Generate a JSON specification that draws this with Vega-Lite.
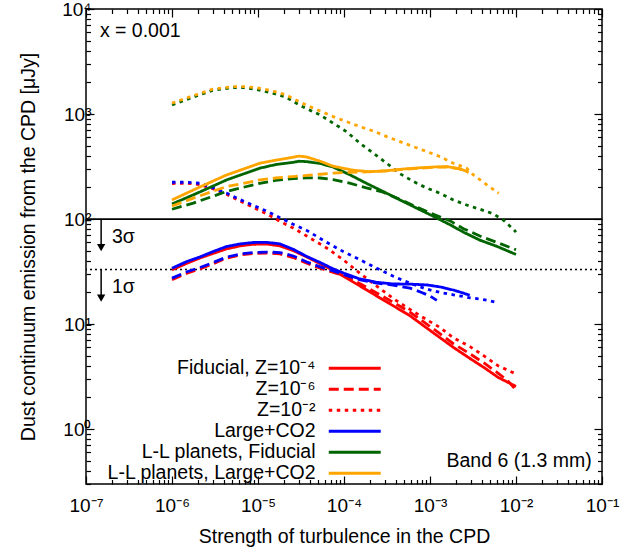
{
  "$schema": "https://vega.github.io/schema/vega-lite/v6.json",
  "width": 516,
  "height": 475,
  "autosize": {"type": "none"},
  "padding": {"left": 86, "top": 9, "right": 37, "bottom": 68},
  "background": "white",
  "config": {
    "view": {"stroke": "black", "strokeWidth": 1.5},
    "font": "Liberation Sans",
    "axis": {
      "domain": false, "grid": false,
      "labelFont": "Liberation Sans", "labelFontSize": 19, "labelColor": "black",
      "titleFont": "Liberation Sans", "titleFontSize": 19.5, "titleFontWeight": "normal", "titleColor": "black",
      "tickColor": "black", "tickWidth": 1.2, "labelOverlap": false, "labelFlush": false, "labelBound": false
    },
    "text": {"font": "Liberation Sans", "fontSize": 19.5, "color": "black"}
  },
  "datasets": {
    "curves": [
      {"s":"R2","a":1e-6,"f":218},{"s":"R2","a":1.5e-6,"f":219},{"s":"R2","a":2.1e-6,"f":213},{"s":"R2","a":3e-6,"f":194},{"s":"R2","a":4.3e-6,"f":172},{"s":"R2","a":6.2e-6,"f":148},{"s":"R2","a":8.8e-6,"f":129},{"s":"R2","a":1.26e-5,"f":112},{"s":"R2","a":1.8e-5,"f":95},{"s":"R2","a":2.57e-5,"f":82},{"s":"R2","a":3.68e-5,"f":69},{"s":"R2","a":6.29e-5,"f":53},{"s":"R2","a":9.8e-5,"f":41},{"s":"R2","a":1.53e-4,"f":30.5},{"s":"R2","a":2.4e-4,"f":23},{"s":"R2","a":3.74e-4,"f":17.5},{"s":"R2","a":5.85e-4,"f":13.8},{"s":"R2","a":9.16e-4,"f":11},{"s":"R2","a":1.3e-3,"f":9.3},{"s":"R2","a":1.87e-3,"f":7.4},{"s":"R2","a":2.92e-3,"f":6.1},{"s":"R2","a":4.36e-3,"f":4.9},{"s":"R2","a":6.2e-3,"f":4.0},{"s":"R2","a":1e-2,"f":3.35},
      {"s":"R6","a":1e-6,"f":26.5},{"s":"R6","a":1.5e-6,"f":30.5},{"s":"R6","a":2.1e-6,"f":33.5},{"s":"R6","a":3e-6,"f":37.5},{"s":"R6","a":4.3e-6,"f":42.5},{"s":"R6","a":6.2e-6,"f":45.5},{"s":"R6","a":8.8e-6,"f":47},{"s":"R6","a":1.26e-5,"f":47.5},{"s":"R6","a":1.8e-5,"f":46.5},{"s":"R6","a":2.57e-5,"f":43},{"s":"R6","a":3.7e-5,"f":38},{"s":"R6","a":5.3e-5,"f":34},{"s":"R6","a":7.5e-5,"f":31},{"s":"R6","a":1e-4,"f":28.8},{"s":"R6","a":1.5e-4,"f":24.5},{"s":"R6","a":2.4e-4,"f":19.8},{"s":"R6","a":3.7e-4,"f":16.2},{"s":"R6","a":5.85e-4,"f":13},{"s":"R6","a":1e-3,"f":9.5},{"s":"R6","a":1.87e-3,"f":6.5},{"s":"R6","a":2.92e-3,"f":5.2},{"s":"R6","a":4.36e-3,"f":4.2},{"s":"R6","a":6.22e-3,"f":3.4},{"s":"R6","a":8e-3,"f":2.9},{"s":"R6","a":1e-2,"f":2.35},
      {"s":"R1","a":1e-6,"f":32.8},{"s":"R1","a":1.5e-6,"f":38},{"s":"R1","a":2.1e-6,"f":42.5},{"s":"R1","a":3e-6,"f":47},{"s":"R1","a":4.3e-6,"f":52},{"s":"R1","a":6.2e-6,"f":55.5},{"s":"R1","a":8.8e-6,"f":57.5},{"s":"R1","a":1.26e-5,"f":57.8},{"s":"R1","a":1.8e-5,"f":55.5},{"s":"R1","a":2.57e-5,"f":50},{"s":"R1","a":3.7e-5,"f":43.5},{"s":"R1","a":5.3e-5,"f":37.5},{"s":"R1","a":7.5e-5,"f":32.5},{"s":"R1","a":1e-4,"f":28.3},{"s":"R1","a":1.5e-4,"f":23.3},{"s":"R1","a":2.4e-4,"f":18.5},{"s":"R1","a":3.7e-4,"f":15},{"s":"R1","a":5.85e-4,"f":12},{"s":"R1","a":1e-3,"f":8.7},{"s":"R1","a":1.87e-3,"f":6.0},{"s":"R1","a":2.92e-3,"f":4.7},{"s":"R1","a":4.36e-3,"f":3.8},{"s":"R1","a":6.22e-3,"f":3.1},{"s":"R1","a":1e-2,"f":2.55},
      {"s":"B2","a":1e-6,"f":224},{"s":"B2","a":1.5e-6,"f":224},{"s":"B2","a":2.1e-6,"f":219},{"s":"B2","a":3e-6,"f":198},{"s":"B2","a":4.3e-6,"f":177},{"s":"B2","a":6.2e-6,"f":153},{"s":"B2","a":8.8e-6,"f":135},{"s":"B2","a":1.26e-5,"f":119},{"s":"B2","a":1.8e-5,"f":103},{"s":"B2","a":2.57e-5,"f":89},{"s":"B2","a":3.68e-5,"f":78},{"s":"B2","a":6.29e-5,"f":60},{"s":"B2","a":9.8e-5,"f":49},{"s":"B2","a":1.53e-4,"f":41},{"s":"B2","a":2.4e-4,"f":34},{"s":"B2","a":3.74e-4,"f":28.5},{"s":"B2","a":5.85e-4,"f":24.5},{"s":"B2","a":9.16e-4,"f":21.5},{"s":"B2","a":1.31e-3,"f":20},{"s":"B2","a":1.87e-3,"f":19},{"s":"B2","a":2.92e-3,"f":17.8},{"s":"B2","a":4.36e-3,"f":17},{"s":"B2","a":6.22e-3,"f":16},
      {"s":"B6","a":1e-6,"f":27.4},{"s":"B6","a":1.5e-6,"f":31.5},{"s":"B6","a":2.1e-6,"f":34.5},{"s":"B6","a":3e-6,"f":38.5},{"s":"B6","a":4.3e-6,"f":43.4},{"s":"B6","a":6.2e-6,"f":46.5},{"s":"B6","a":8.8e-6,"f":48},{"s":"B6","a":1.26e-5,"f":48.5},{"s":"B6","a":1.8e-5,"f":48},{"s":"B6","a":2.57e-5,"f":44.5},{"s":"B6","a":3.7e-5,"f":39},{"s":"B6","a":5.3e-5,"f":35},{"s":"B6","a":7.5e-5,"f":32},{"s":"B6","a":1e-4,"f":29.5},{"s":"B6","a":1.5e-4,"f":26.5},{"s":"B6","a":2.4e-4,"f":24.5},{"s":"B6","a":3.7e-4,"f":23.5},{"s":"B6","a":5.85e-4,"f":22},{"s":"B6","a":8e-4,"f":20},{"s":"B6","a":1e-3,"f":18.5},{"s":"B6","a":1.2e-3,"f":16.8},
      {"s":"B1","a":1e-6,"f":34},{"s":"B1","a":1.5e-6,"f":39.5},{"s":"B1","a":2.1e-6,"f":43.5},{"s":"B1","a":3e-6,"f":49},{"s":"B1","a":4.3e-6,"f":54.7},{"s":"B1","a":6.2e-6,"f":58},{"s":"B1","a":8.8e-6,"f":59.8},{"s":"B1","a":1.26e-5,"f":60},{"s":"B1","a":1.8e-5,"f":58},{"s":"B1","a":2.57e-5,"f":51.5},{"s":"B1","a":3.7e-5,"f":44},{"s":"B1","a":5.3e-5,"f":38.5},{"s":"B1","a":7.5e-5,"f":33.5},{"s":"B1","a":1e-4,"f":30.5},{"s":"B1","a":1.5e-4,"f":27},{"s":"B1","a":2.4e-4,"f":25},{"s":"B1","a":3.7e-4,"f":24.1},{"s":"B1","a":5.85e-4,"f":24},{"s":"B1","a":9.2e-4,"f":23.6},{"s":"B1","a":1.3e-3,"f":22.6},{"s":"B1","a":1.9e-3,"f":21},{"s":"B1","a":2.4e-3,"f":19.8},{"s":"B1","a":2.9e-3,"f":18.8},
      {"s":"G2","a":1e-6,"f":1220},{"s":"G2","a":1.77e-6,"f":1450},{"s":"G2","a":2.97e-6,"f":1680},{"s":"G2","a":5.08e-6,"f":1790},{"s":"G2","a":7.25e-6,"f":1780},{"s":"G2","a":1.04e-5,"f":1690},{"s":"G2","a":1.48e-5,"f":1577},{"s":"G2","a":2.12e-5,"f":1445},{"s":"G2","a":3.02e-5,"f":1219},{"s":"G2","a":3.61e-5,"f":1135},{"s":"G2","a":5.26e-5,"f":980},{"s":"G2","a":7.5e-5,"f":817},{"s":"G2","a":1.07e-4,"f":679},{"s":"G2","a":1.53e-4,"f":527},{"s":"G2","a":2.19e-4,"f":424},{"s":"G2","a":3.14e-4,"f":340},{"s":"G2","a":4.48e-4,"f":270},{"s":"G2","a":6.4e-4,"f":228},{"s":"G2","a":9.2e-4,"f":197},{"s":"G2","a":1.31e-3,"f":176},{"s":"G2","a":1.87e-3,"f":152},{"s":"G2","a":2.67e-3,"f":136},{"s":"G2","a":3.81e-3,"f":124},{"s":"G2","a":5.45e-3,"f":112},{"s":"G2","a":7.1e-3,"f":98},{"s":"G2","a":9.3e-3,"f":80},{"s":"G2","a":1e-2,"f":75},
      {"s":"G6","a":1e-6,"f":124},{"s":"G6","a":1.77e-6,"f":142},{"s":"G6","a":3e-6,"f":165},{"s":"G6","a":4.32e-6,"f":183},{"s":"G6","a":6.2e-6,"f":197},{"s":"G6","a":1.05e-5,"f":219},{"s":"G6","a":1.6e-5,"f":233},{"s":"G6","a":2.57e-5,"f":243},{"s":"G6","a":3.68e-5,"f":247},{"s":"G6","a":5.3e-5,"f":246},{"s":"G6","a":7.5e-5,"f":237},{"s":"G6","a":1.16e-4,"f":220},{"s":"G6","a":1.82e-4,"f":198},{"s":"G6","a":2.85e-4,"f":180},{"s":"G6","a":4.48e-4,"f":154},{"s":"G6","a":7.0e-4,"f":130},{"s":"G6","a":1.1e-3,"f":111},{"s":"G6","a":1.72e-3,"f":96},{"s":"G6","a":2.45e-3,"f":81},{"s":"G6","a":3.8e-3,"f":69},{"s":"G6","a":5.97e-3,"f":60},{"s":"G6","a":1e-2,"f":51},
      {"s":"G1","a":1e-6,"f":139},{"s":"G1","a":1.77e-6,"f":170},{"s":"G1","a":3e-6,"f":206},{"s":"G1","a":4.32e-6,"f":236},{"s":"G1","a":6.2e-6,"f":262},{"s":"G1","a":1.05e-5,"f":305},{"s":"G1","a":1.6e-5,"f":330},{"s":"G1","a":2.57e-5,"f":347},{"s":"G1","a":3.0e-5,"f":355},{"s":"G1","a":3.68e-5,"f":352},{"s":"G1","a":5.3e-5,"f":338},{"s":"G1","a":7.5e-5,"f":312},{"s":"G1","a":1.16e-4,"f":265},{"s":"G1","a":1.82e-4,"f":219},{"s":"G1","a":2.85e-4,"f":183},{"s":"G1","a":4.48e-4,"f":152},{"s":"G1","a":7.0e-4,"f":127},{"s":"G1","a":1.1e-3,"f":106},{"s":"G1","a":1.72e-3,"f":88},{"s":"G1","a":2.45e-3,"f":75},{"s":"G1","a":3.8e-3,"f":63},{"s":"G1","a":5.97e-3,"f":55},{"s":"G1","a":1e-2,"f":46},
      {"s":"O2","a":1e-6,"f":1268},{"s":"O2","a":1.77e-6,"f":1496},{"s":"O2","a":2.97e-6,"f":1722},{"s":"O2","a":5.08e-6,"f":1823},{"s":"O2","a":7.25e-6,"f":1823},{"s":"O2","a":1.04e-5,"f":1760},{"s":"O2","a":1.48e-5,"f":1659},{"s":"O2","a":2.12e-5,"f":1520},{"s":"O2","a":3.02e-5,"f":1312},{"s":"O2","a":3.61e-5,"f":1219},{"s":"O2","a":5.26e-5,"f":1070},{"s":"O2","a":7.5e-5,"f":944},{"s":"O2","a":1.07e-4,"f":846},{"s":"O2","a":1.53e-4,"f":758},{"s":"O2","a":2.19e-4,"f":690},{"s":"O2","a":3.14e-4,"f":609},{"s":"O2","a":4.48e-4,"f":546},{"s":"O2","a":6.4e-4,"f":489},{"s":"O2","a":9.2e-4,"f":439},{"s":"O2","a":1.31e-3,"f":393},{"s":"O2","a":1.87e-3,"f":340},{"s":"O2","a":2.67e-3,"f":305},{"s":"O2","a":3.2e-3,"f":263},{"s":"O2","a":4.6e-3,"f":211},{"s":"O2","a":6.3e-3,"f":176},
      {"s":"O6","a":1e-6,"f":133},{"s":"O6","a":1.77e-6,"f":158},{"s":"O6","a":3e-6,"f":184},{"s":"O6","a":4.32e-6,"f":204},{"s":"O6","a":6.2e-6,"f":216},{"s":"O6","a":1.05e-5,"f":236},{"s":"O6","a":1.6e-5,"f":246},{"s":"O6","a":2.57e-5,"f":254},{"s":"O6","a":3.68e-5,"f":260},{"s":"O6","a":5.3e-5,"f":267},{"s":"O6","a":7.5e-5,"f":274},{"s":"O6","a":1.16e-4,"f":279},{"s":"O6","a":1.8e-4,"f":281},{"s":"O6","a":3.2e-4,"f":287},{"s":"O6","a":5e-4,"f":298},{"s":"O6","a":7.7e-4,"f":305},{"s":"O6","a":1.2e-3,"f":312},{"s":"O6","a":1.6e-3,"f":313},{"s":"O6","a":2.2e-3,"f":300},{"s":"O6","a":2.8e-3,"f":278},
      {"s":"O1","a":1e-6,"f":152},{"s":"O1","a":1.77e-6,"f":189},{"s":"O1","a":3e-6,"f":230},{"s":"O1","a":4.32e-6,"f":263},{"s":"O1","a":6.2e-6,"f":292},{"s":"O1","a":1.05e-5,"f":340},{"s":"O1","a":1.6e-5,"f":363},{"s":"O1","a":2.57e-5,"f":388},{"s":"O1","a":3.0e-5,"f":398},{"s":"O1","a":3.68e-5,"f":390},{"s":"O1","a":5.3e-5,"f":355},{"s":"O1","a":7.5e-5,"f":318},{"s":"O1","a":1.27e-4,"f":292},{"s":"O1","a":2e-4,"f":282},{"s":"O1","a":3.2e-4,"f":289},{"s":"O1","a":5e-4,"f":300},{"s":"O1","a":7.7e-4,"f":308},{"s":"O1","a":1.2e-3,"f":314},{"s":"O1","a":1.6e-3,"f":315},{"s":"O1","a":2.2e-3,"f":302},{"s":"O1","a":2.8e-3,"f":280}
    ],
    "sigma3": [{"f": 100}],
    "sigma1": [{"f": 33}],
    "arrows": [{"a": 1.5e-7, "f1": 100, "f2": 53.5}, {"a": 1.5e-7, "f1": 33, "f2": 17.7}],
    "notesL": [{"a": 1.45e-7, "f": 5419, "t": "x = 0.001"}, {"a": 2.0e-7, "f": 59.3, "t": "3σ"}, {"a": 2.0e-7, "f": 19.8, "t": "1σ"}],
    "notesR": [{"a": 0.0759, "f": 0.44, "t": "Band 6 (1.3 mm)"}]
  },
  "layer": [
    {
      "data": {"name": "sigma3"},
      "mark": {"type": "rule", "color": "black", "strokeWidth": 1.8},
      "encoding": {
        "y": {"field": "f", "type": "quantitative", "scale": {"type": "log", "domain": [0.3, 10000], "nice": false}, "axis": null}
      }
    },
    {
      "data": {"name": "sigma1"},
      "mark": {"type": "rule", "color": "black", "strokeWidth": 1.5, "strokeDash": [2, 3]},
      "encoding": {
        "y": {"field": "f", "type": "quantitative", "scale": {"type": "log", "domain": [0.3, 10000], "nice": false}, "axis": null}
      }
    },
    {
      "data": {"name": "arrows"},
      "mark": {"type": "rule", "color": "black", "strokeWidth": 1.5},
      "encoding": {
        "x": {"field": "a", "type": "quantitative", "scale": {"type": "log", "domain": [1e-7, 0.1], "nice": false}, "axis": null},
        "y": {"field": "f1", "type": "quantitative", "scale": {"type": "log", "domain": [0.3, 10000], "nice": false}, "axis": null},
        "y2": {"field": "f2"}
      }
    },
    {
      "data": {"name": "arrows"},
      "mark": {"type": "point", "shape": "triangle-down", "filled": true, "color": "black", "size": 70, "opacity": 1},
      "encoding": {
        "x": {"field": "a", "type": "quantitative", "scale": {"type": "log", "domain": [1e-7, 0.1], "nice": false}, "axis": null},
        "y": {"field": "f2", "type": "quantitative", "scale": {"type": "log", "domain": [0.3, 10000], "nice": false}, "axis": null}
      }
    },
    {
      "data": {"name": "curves"},
      "mark": {"type": "line", "strokeWidth": 2.8, "strokeCap": "butt", "clip": true},
      "encoding": {
        "x": {"field": "a", "type": "quantitative", "scale": {"type": "log", "domain": [1e-7, 0.1], "nice": false},
          "axis": {"orient": "bottom", "title": "Strength of turbulence in the CPD", "titleY": 58, "titleBaseline": "alphabetic",
            "values": [1e-7,2e-7,3e-7,4e-7,5e-7,6e-7,7e-7,8e-7,9e-7,1e-6,2e-6,3e-6,4e-6,5e-6,6e-6,7e-6,8e-6,9e-6,1e-5,2e-5,3e-5,4e-5,5e-5,6e-5,7e-5,8e-5,9e-5,1e-4,2e-4,3e-4,4e-4,5e-4,6e-4,7e-4,8e-4,9e-4,1e-3,2e-3,3e-3,4e-3,5e-3,6e-3,7e-3,8e-3,9e-3,1e-2,2e-2,3e-2,4e-2,5e-2,6e-2,7e-2,8e-2,9e-2,0.1],
            "tickSize": {"condition": {"test": "abs(log(datum.value)/LN10 - round(log(datum.value)/LN10)) < 0.001", "value": -8}, "value": -4.5},
            "labelPadding": 20,
            "labelExpr": "abs(log(datum.value)/LN10 - round(log(datum.value)/LN10)) > 0.001 ? '' : '10' + (datum.value < 1 ? '⁻' : '') + substring('⁰¹²³⁴⁵⁶⁷⁸⁹', abs(round(log(datum.value)/LN10)), abs(round(log(datum.value)/LN10)) + 1)"}},
        "y": {"field": "f", "type": "quantitative", "scale": {"type": "log", "domain": [0.3, 10000], "nice": false},
          "axis": {"orient": "left", "title": "Dust continuum emission from the CPD [μJy]", "titleX": -58, "titleBaseline": "middle",
            "values": [0.3,0.4,0.5,0.6,0.7,0.8,0.9,1,2,3,4,5,6,7,8,9,10,20,30,40,50,60,70,80,90,100,200,300,400,500,600,700,800,900,1000,2000,3000,4000,5000,6000,7000,8000,9000,10000],
            "tickSize": {"condition": {"test": "abs(log(datum.value)/LN10 - round(log(datum.value)/LN10)) < 0.001", "value": -8}, "value": -4.5},
            "labelPadding": 3,
            "labelExpr": "abs(log(datum.value)/LN10 - round(log(datum.value)/LN10)) > 0.001 ? '' : '10' + (datum.value < 1 ? '⁻' : '') + substring('⁰¹²³⁴⁵⁶⁷⁸⁹', abs(round(log(datum.value)/LN10)), abs(round(log(datum.value)/LN10)) + 1)"}},
        "color": {"field": "s", "type": "nominal",
          "scale": {"domain": ["R1","R6","R2","B1","B6","B2","G1","G6","G2","O1","O6","O2"],
                    "range": ["#ff0000","#ff0000","#ff0000","#0000ff","#0000ff","#0000ff","#006400","#006400","#006400","#ffa500","#ffa500","#ffa500"]},
          "legend": {"orient": "none", "legendX": 259, "legendY": 349.5, "direction": "vertical", "title": null,
            "values": ["R1","R6","R2","B1","G1","O1"], "symbolType": "M-5,0H5", "symbolSize": 108, "symbolStrokeWidth": 3,
            "labelFont": "Liberation Sans", "labelFontSize": 19.5, "labelColor": "black", "labelAlign": "right", "labelOffset": -49, "labelLimit": 400,
            "rowPadding": 0, "padding": 0, "offset": 0,
            "labelExpr": "datum.value == 'R1' ? 'Fiducial, Z=10⁻⁴' : datum.value == 'R6' ? 'Z=10⁻⁶' : datum.value == 'R2' ? 'Z=10⁻²' : datum.value == 'B1' ? 'Large+CO2' : datum.value == 'G1' ? 'L-L planets, Fiducial' : 'L-L planets, Large+CO2'"}},
        "strokeDash": {"field": "s", "type": "nominal",
          "scale": {"domain": ["R1","R6","R2","B1","B6","B2","G1","G6","G2","O1","O6","O2"],
                    "range": [[1,0],[10,5],[3.5,4.5],[1,0],[10,5],[3.5,4.5],[1,0],[10,5],[3.5,4.5],[1,0],[10,5],[3.5,4.5]]},
          "legend": {"orient": "none", "legendX": 259, "legendY": 349.5, "direction": "vertical", "title": null,
            "values": ["R1","R6","R2","B1","G1","O1"], "symbolType": "M-5,0H5", "symbolSize": 108, "symbolStrokeWidth": 3,
            "labelFont": "Liberation Sans", "labelFontSize": 19.5, "labelColor": "black", "labelAlign": "right", "labelOffset": -49, "labelLimit": 400,
            "rowPadding": 0, "padding": 0, "offset": 0,
            "labelExpr": "datum.value == 'R1' ? 'Fiducial, Z=10⁻⁴' : datum.value == 'R6' ? 'Z=10⁻⁶' : datum.value == 'R2' ? 'Z=10⁻²' : datum.value == 'B1' ? 'Large+CO2' : datum.value == 'G1' ? 'L-L planets, Fiducial' : 'L-L planets, Large+CO2'"}},
        "detail": {"field": "s", "type": "nominal"}
      }
    },
    {
      "data": {"name": "curves"},
      "mark": {"type": "point", "opacity": 0},
      "encoding": {
        "x": {"field": "a", "type": "quantitative", "scale": {"type": "log", "domain": [1e-7, 0.1], "nice": false},
          "axis": {"orient": "top", "title": null, "labels": false,
            "values": [1e-7,2e-7,3e-7,4e-7,5e-7,6e-7,7e-7,8e-7,9e-7,1e-6,2e-6,3e-6,4e-6,5e-6,6e-6,7e-6,8e-6,9e-6,1e-5,2e-5,3e-5,4e-5,5e-5,6e-5,7e-5,8e-5,9e-5,1e-4,2e-4,3e-4,4e-4,5e-4,6e-4,7e-4,8e-4,9e-4,1e-3,2e-3,3e-3,4e-3,5e-3,6e-3,7e-3,8e-3,9e-3,1e-2,2e-2,3e-2,4e-2,5e-2,6e-2,7e-2,8e-2,9e-2,0.1],
            "tickSize": {"condition": {"test": "abs(log(datum.value)/LN10 - round(log(datum.value)/LN10)) < 0.001", "value": -8}, "value": -4.5}}},
        "y": {"field": "f", "type": "quantitative", "scale": {"type": "log", "domain": [0.3, 10000], "nice": false},
          "axis": {"orient": "right", "title": null, "labels": false,
            "values": [0.3,0.4,0.5,0.6,0.7,0.8,0.9,1,2,3,4,5,6,7,8,9,10,20,30,40,50,60,70,80,90,100,200,300,400,500,600,700,800,900,1000,2000,3000,4000,5000,6000,7000,8000,9000,10000],
            "tickSize": {"condition": {"test": "abs(log(datum.value)/LN10 - round(log(datum.value)/LN10)) < 0.001", "value": -8}, "value": -4.5}}}
      }
    },
    {
      "data": {"name": "notesL"},
      "mark": {"type": "text", "align": "left", "baseline": "alphabetic"},
      "encoding": {
        "x": {"field": "a", "type": "quantitative", "scale": {"type": "log", "domain": [1e-7, 0.1], "nice": false}, "axis": null},
        "y": {"field": "f", "type": "quantitative", "scale": {"type": "log", "domain": [0.3, 10000], "nice": false}, "axis": null},
        "text": {"field": "t"}
      }
    },
    {
      "data": {"name": "notesR"},
      "mark": {"type": "text", "align": "right", "baseline": "alphabetic"},
      "encoding": {
        "x": {"field": "a", "type": "quantitative", "scale": {"type": "log", "domain": [1e-7, 0.1], "nice": false}, "axis": null},
        "y": {"field": "f", "type": "quantitative", "scale": {"type": "log", "domain": [0.3, 10000], "nice": false}, "axis": null},
        "text": {"field": "t"}
      }
    }
  ],
  "resolve": {"axis": {"x": "independent", "y": "independent"}}
}
